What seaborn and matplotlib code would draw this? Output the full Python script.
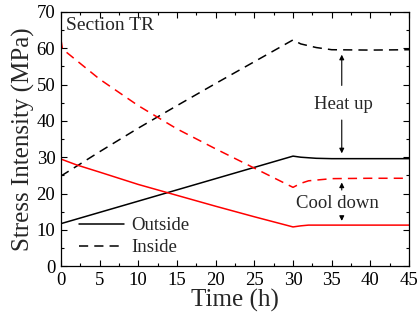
import matplotlib
matplotlib.use("Agg")
import matplotlib.pyplot as plt
import seaborn as sns
from matplotlib.ticker import MultipleLocator

# ── Data ─────────────────────────────────────────────────────────────────────
heat_out_t = [0, 5, 10, 15, 20, 25, 30, 31, 33, 35, 40, 45]
heat_out_s = [11.7, 14.8, 17.9, 21.0, 24.1, 27.2, 30.3, 30.0, 29.7, 29.6, 29.6, 29.6]

heat_in_t = [0, 5, 10, 15, 20, 25, 30, 31, 33, 35, 40, 45]
heat_in_s = [24.8, 31.5, 38.0, 44.2, 50.3, 56.3, 62.3, 61.2, 60.2, 59.6, 59.5, 59.6]

cool_out_t = [0, 2, 5, 10, 15, 20, 25, 30, 31, 32, 35, 40, 45]
cool_out_s = [29.5, 27.9, 25.9, 22.5, 19.5, 16.5, 13.6, 10.8, 11.1, 11.3, 11.3, 11.3, 11.3]

cool_in_t = [0, 0.2, 5, 10, 15, 20, 25, 30, 31, 32, 35, 40, 45]
cool_in_s = [62.5, 59.8, 51.5, 44.2, 37.8, 32.3, 27.0, 21.7, 22.8, 23.5, 24.1, 24.2, 24.2]

# ── Style ────────────────────────────────────────────────────────────────────
sns.set_style("ticks")
plt.rcParams["font.family"] = ["Liberation Serif", "DejaVu Serif"]

fig = plt.figure(figsize=(4.17, 3.23), dpi=100)
ax = fig.add_axes([0.146, 0.176, 0.835, 0.787])

dash = (0, (6, 4))
lw = 1.1

sns.lineplot(x=heat_out_t, y=heat_out_s, ax=ax, color="black", lw=lw,
             label="Outside")
sns.lineplot(x=heat_in_t, y=heat_in_s, ax=ax, color="black", lw=lw,
             linestyle=dash, label="Inside")
sns.lineplot(x=cool_out_t, y=cool_out_s, ax=ax, color="red", lw=lw)
sns.lineplot(x=cool_in_t, y=cool_in_s, ax=ax, color="red", lw=lw,
             linestyle=dash)

# ── Axes ─────────────────────────────────────────────────────────────────────
ax.set_xlim(0, 45)
ax.set_ylim(0, 70)
ax.xaxis.set_major_locator(MultipleLocator(5))
ax.xaxis.set_minor_locator(MultipleLocator(2.5))
ax.yaxis.set_major_locator(MultipleLocator(10))
ax.yaxis.set_minor_locator(MultipleLocator(5))
ax.tick_params(which="both", direction="in", top=True, right=True,
               labelsize=13.5, width=0.8, colors="black")
ax.tick_params(which="major", length=4, pad=4)
ax.tick_params(which="minor", length=2.5)
for sp in ax.spines.values():
    sp.set_linewidth(0.9)
    sp.set_color("black")

ax.set_xlabel("Time (h)", fontsize=18, labelpad=0)
ax.set_ylabel("Stress Intensity (MPa)", fontsize=18, labelpad=1)

ax.text(0.7, 66.3, "Section TR", fontsize=14, ha="left", va="center")

# ── Annotations ──────────────────────────────────────────────────────────────
arr = dict(arrowstyle="-|>", color="black", lw=0.8, mutation_scale=7)
ax.text(36.5, 44.6, "Heat up", fontsize=13.5, ha="center", va="center")
ax.annotate("", xy=(36.3, 59.0), xytext=(36.3, 49.0), arrowprops=arr)
ax.annotate("", xy=(36.3, 30.3), xytext=(36.3, 41.0), arrowprops=arr)

ax.text(35.8, 17.2, "Cool down", fontsize=13.5, ha="center", va="center")
ax.annotate("", xy=(36.3, 23.8), xytext=(36.3, 20.2), arrowprops=arr)
ax.annotate("", xy=(36.3, 11.7), xytext=(36.3, 14.2), arrowprops=arr)

leg = ax.legend(loc="lower left", bbox_to_anchor=(0.02, -0.005), frameon=False,
                fontsize=13.5, handlelength=2.4, handletextpad=0.4,
                labelspacing=0.25, borderaxespad=0.2)

fig.savefig("out.png", dpi=100)
